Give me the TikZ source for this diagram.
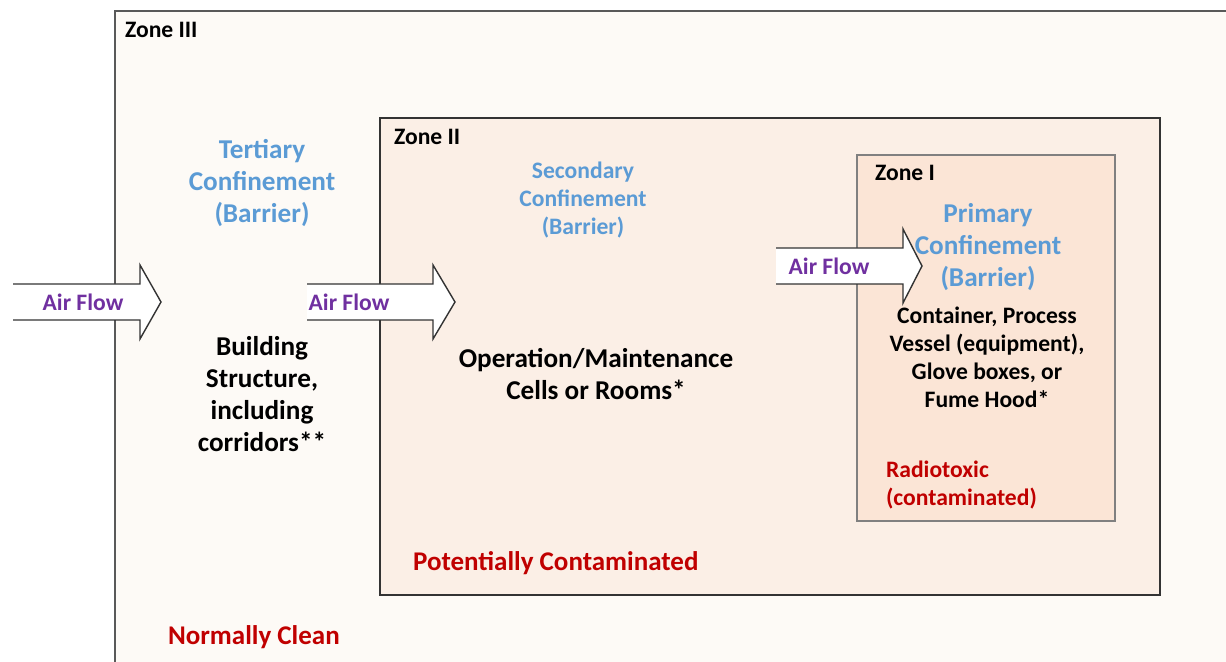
\documentclass[tikz,border=0pt]{standalone}
\usepackage{fontspec}
\setmainfont{Carlito}
\usetikzlibrary{positioning}

\definecolor{zthree}{HTML}{FDFAF6}
\definecolor{ztwo}{HTML}{FBEFE6}
\definecolor{zone}{HTML}{FBE5D6}
\definecolor{barrier}{HTML}{5B9BD5}
\definecolor{flow}{HTML}{7030A0}
\definecolor{hazard}{HTML}{C00000}

\tikzset{
  zlabel/.style={anchor=west, font=\bfseries\fontsize{11.8}{13}\selectfont},
  barr/.style={align=center, text=barrier, font=\bfseries\fontsize{13.6}{16}\selectfont},
  barrs/.style={align=center, text=barrier, font=\bfseries\fontsize{11.8}{14}\selectfont},
  flowtxt/.style={text=flow, font=\bfseries\fontsize{11.8}{13}\selectfont},
  desc/.style={align=center, font=\bfseries\fontsize{13.6}{16}\selectfont},
  descs/.style={align=center, font=\bfseries\fontsize{11.8}{14}\selectfont},
  hz/.style={anchor=west, align=left, text=hazard, font=\bfseries\fontsize{11.8}{14}\selectfont},
  hzbig/.style={hz, font=\bfseries\fontsize{13.5}{15}\selectfont}
}

% left end, head base, tip, middle y
\newcommand{\flowarrow}[4]{%
  \fill[white] (#1,#4-18) -- (#2,#4-18) -- (#2,#4-37) -- (#3,#4) -- (#2,#4+37)
    -- (#2,#4+18) -- (#1,#4+18) -- cycle;
  \draw[line width=0.7pt, black!80] (#1,#4-18) -- (#2,#4-18) -- (#2,#4-37) -- (#3,#4)
    -- (#2,#4+37) -- (#2,#4+18) -- (#1,#4+18);
}

\begin{document}
\begin{tikzpicture}[x=0.5pt, y=-0.5pt]
\useasboundingbox (0,0) rectangle (1226,662);
\clip (0,0) rectangle (1226,662);

% zones
\draw[line width=0.9pt, draw=black!65, fill=zthree] (115,11) rectangle (1250,690);
\draw[line width=0.9pt, draw=black!80, fill=ztwo] (380,118) rectangle (1160,595);
\draw[line width=0.7pt, draw=black!50, fill=zone] (857,155) rectangle (1115,521);

% air flow arrows
\flowarrow{13}{140}{161}{302}
\flowarrow{307}{433}{455}{302}
\flowarrow{776}{903}{922}{266}

\node[flowtxt] (F1) at (83,302) {Air Flow};
\node[flowtxt] (F2) at (349,302) {Air Flow};
\node[flowtxt] (F3) at (829,266) {Air Flow};

% zone III
\node[zlabel] (Z3) at (118,30) {Zone III};
\node[barr] (T3) at (262,183) {Tertiary\\Confinement\\(Barrier)};
\node[desc] (B3) at (262,394) {Building\\Structure,\\including\\corridors**};
\node[hzbig] (H3) at (161,637) {Normally Clean};

% zone II
\node[zlabel] (Z2) at (387,137) {Zone II};
\node[barrs] (T2) at (583,200) {Secondary\\Confinement\\(Barrier)};
\node[desc] (B2) at (596,374) {Operation/Maintenance\\Cells or Rooms*};
\node[hzbig] (H2) at (406,563) {Potentially Contaminated};

% zone I
\node[zlabel] (Z1) at (868,173) {Zone I};
\node[barr] (T1) at (988,247) {Primary\\Confinement\\(Barrier)};
\node[descs] (B1) at (987,357) {Container, Process\\Vessel (equipment),\\Glove boxes, or\\Fume Hood*};
\node[hz] (H1) at (879,485) {Radiotoxic\\(contaminated)};
\end{tikzpicture}
\end{document}
